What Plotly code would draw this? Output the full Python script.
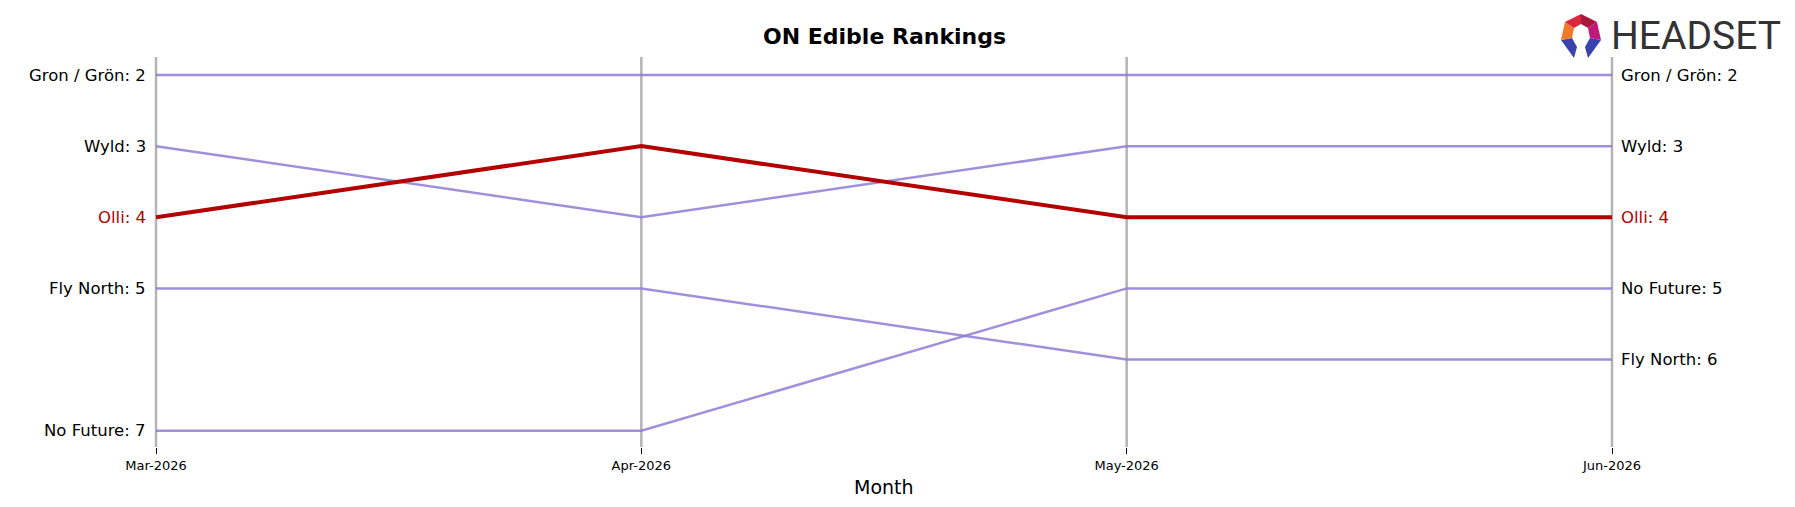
import plotly.graph_objects as go

months = ["Mar-2026", "Apr-2026", "May-2026", "Jun-2026"]
brands = ["Gron / Grön", "Wyld", "Olli", "Fly North", "No Future"]
ranks = {
    "Gron / Grön": [2, 2, 2, 2],
    "Wyld": [3, 4, 3, 3],
    "Olli": [4, 3, 4, 4],
    "Fly North": [5, 5, 6, 6],
    "No Future": [7, 7, 5, 5],
}
highlight = "Olli"
title = "ON Edible Rankings"
x_title = "Month"

W, H = 1795, 507
ML, MR, MT, MB = 156, 183, 57, 60
PW, PH = W - ML - MR, H - MT - MB

def px(x):
    return (x - ML) / PW

def py(y):
    return (H - MB - y) / PH

FONT = "DejaVu Sans"
PURPLE = "rgba(143,125,213,0.85)"
RED = "#b30000"

fig = go.Figure()
xi = list(range(len(months)))
for b in brands:
    if b == highlight:
        continue
    fig.add_trace(go.Scatter(x=xi, y=ranks[b], mode="lines",
                             line=dict(color=PURPLE, width=2.5), hoverinfo="skip",
                             showlegend=False))
fig.add_trace(go.Scatter(x=xi, y=ranks[highlight], mode="lines",
                         line=dict(color=RED, width=4), hoverinfo="skip",
                         showlegend=False))

ann = []
for b in brands:
    col = RED if b == highlight else "black"
    ann.append(dict(x=0, y=ranks[b][0], xref="x", yref="y", text=f"{b}: {ranks[b][0]}",
                    xanchor="right", yanchor="middle", xshift=-8, showarrow=False,
                    font=dict(family=FONT, size=16.5, color=col)))
    ann.append(dict(x=len(months) - 1, y=ranks[b][-1], xref="x", yref="y",
                    text=f"{b}: {ranks[b][-1]}",
                    xanchor="left", yanchor="middle", xshift=7, showarrow=False,
                    font=dict(family=FONT, size=16.5, color=col)))

ann.append(dict(x=0.5, y=py(37), xref="paper", yref="paper", text=f"<b>{title}</b>",
                xanchor="center", yanchor="middle", showarrow=False,
                font=dict(family=FONT, size=22, color="black")))
ann.append(dict(x=0.5, y=py(487), xref="paper", yref="paper", text=x_title,
                xanchor="center", yanchor="middle", showarrow=False,
                font=dict(family=FONT, size=19, color="black")))
# logo text
ann.append(dict(x=px(1609), y=py(36), xref="paper", yref="paper", text="HEADSET",
                xanchor="left", yanchor="middle", showarrow=False,
                font=dict(family="Roboto", size=39, color="#333333")))

shapes = []
n = len(months) - 1
for i in xi:
    shapes.append(dict(type="line", xref="paper", yref="paper", x0=i / n, x1=i / n,
                       y0=0, y1=1, line=dict(color="#b4b4b4", width=2.5), layer="below"))

# logo icon
O = [(1574, 58), (1561, 40), (1565, 22), (1581, 14), (1597, 22), (1601, 40), (1588, 58)]
I = [(1577, 47), (1572, 38), (1574, 28), (1581, 24), (1588, 28), (1590, 38), (1585, 47)]
cols = ["#3a42ad", "#f07a2a", "#d8283c", "#a8183a", "#c0187a", "#3a42ad"]
for k in range(6):
    pts = [O[k], O[k + 1], I[k + 1], I[k]]
    path = "M " + " L ".join(f"{px(a):.5f},{py(b):.5f}" for a, b in pts) + " Z"
    shapes.append(dict(type="path", xref="paper", yref="paper", path=path,
                       fillcolor=cols[k], line=dict(width=0)))

fig.update_layout(
    width=W, height=H,
    margin=dict(l=ML, r=MR, t=MT, b=MB),
    paper_bgcolor="white", plot_bgcolor="white",
    font=dict(family=FONT, color="black"),
    annotations=ann, shapes=shapes,
    xaxis=dict(range=[0, n], tickvals=xi, ticktext=months,
               showgrid=False, zeroline=False, showline=False,
               ticks="outside", ticklen=6, tickwidth=1, tickcolor="black",
               tickfont=dict(family=FONT, size=13, color="black")),
    yaxis=dict(range=[7.229, 1.747], showgrid=False, zeroline=False,
               showline=False, showticklabels=False, ticks=""),
)

fig.write_html("out.html")
